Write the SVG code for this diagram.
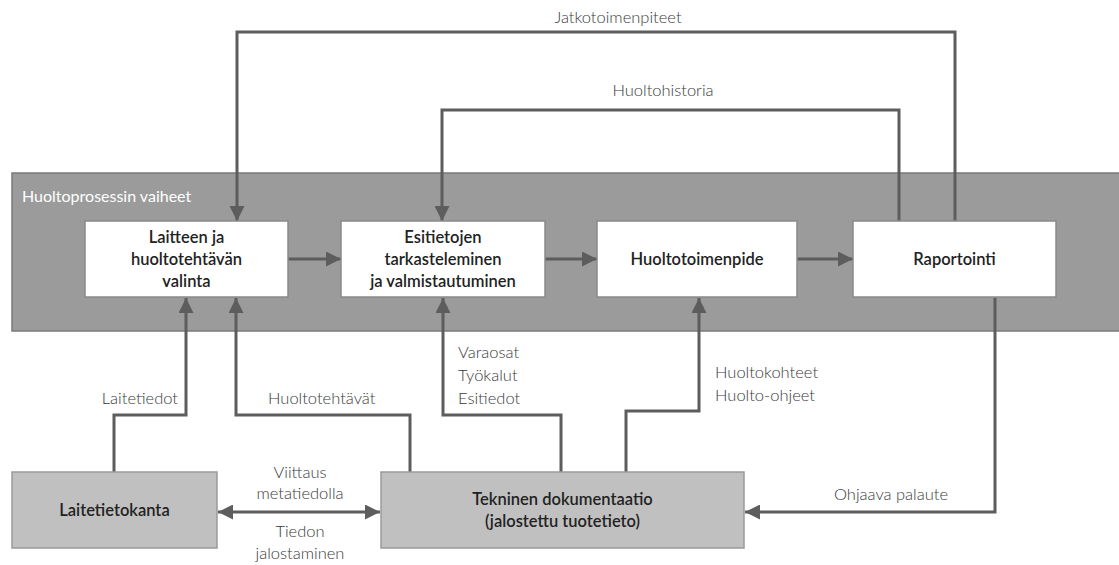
<svg xmlns="http://www.w3.org/2000/svg" width="1119" height="565" viewBox="0 0 1119 565">
<style>
.band{fill:#9b9b9b;stroke:#7a7a7a;stroke-width:1.5}
.step{fill:#fff;stroke:#8a8a8a;stroke-width:1.5}
.src{fill:#c0c0c0;stroke:#9a9a9a;stroke-width:1.5}
.nt{font-family:Lato,"Liberation Sans",sans-serif;font-size:16.5px;font-weight:600;fill:#222;text-anchor:middle}
.lbl{font-family:Lato,"Liberation Sans",sans-serif;font-size:16.5px;font-weight:300;fill:#3a3a3a}
.ttl{font-family:Lato,"Liberation Sans",sans-serif;font-size:16px;fill:#fff}
.c{fill:none;stroke:#5d5d5d;stroke-width:3}
</style>
<defs>
<marker id="ah" viewBox="0 0 10 10" refX="10" refY="5" markerWidth="5" markerHeight="5" orient="auto-start-reverse" markerUnits="strokeWidth">
<path d="M0,0 L10,5 L0,10 Z" fill="#5d5d5d"/>
</marker>
</defs>
<rect width="1119" height="565" fill="#fff"/>
<g id="band">
<rect class="band" x="12" y="173" width="1110" height="158"/>
<text class="ttl" x="22" y="202">Huoltoprosessin vaiheet</text>
</g>
<g id="connectors">
<path class="c" d="M288,259 H341" marker-end="url(#ah)"/>
<path class="c" d="M545,259 H597" marker-end="url(#ah)"/>
<path class="c" d="M797,259 H853" marker-end="url(#ah)"/>
<path class="c" d="M955,221 V32 H237 V221" marker-end="url(#ah)"/>
<path class="c" d="M899,221 V110 H442 V221" marker-end="url(#ah)"/>
<path class="c" d="M114,472 V415 H186 V298" marker-end="url(#ah)"/>
<path class="c" d="M410,472 V415 H236 V298" marker-end="url(#ah)"/>
<path class="c" d="M561,472 V415 H443 V298" marker-end="url(#ah)"/>
<path class="c" d="M626,472 V411 H699 V298" marker-end="url(#ah)"/>
<path class="c" d="M995,298 V512 H745" marker-end="url(#ah)"/>
<path class="c" d="M218,512 H380" marker-start="url(#ah)" marker-end="url(#ah)"/>
</g>
<g id="labels">
<text class="lbl" x="618" y="23" text-anchor="middle">Jatkotoimenpiteet</text>
<text class="lbl" x="663" y="96" text-anchor="middle">Huoltohistoria</text>
<text class="lbl" x="178" y="404" text-anchor="end">Laitetiedot</text>
<text class="lbl" x="268" y="404">Huoltotehtävät</text>
<text class="lbl" x="458" y="358">Varaosat</text>
<text class="lbl" x="458" y="381">Työkalut</text>
<text class="lbl" x="458" y="404">Esitiedot</text>
<text class="lbl" x="715" y="378">Huoltokohteet</text>
<text class="lbl" x="715" y="401">Huolto-ohjeet</text>
<text class="lbl" x="891" y="500" text-anchor="middle">Ohjaava palaute</text>
<text class="lbl" x="300" y="478" text-anchor="middle">Viittaus</text>
<text class="lbl" x="300" y="499" text-anchor="middle">metatiedolla</text>
<text class="lbl" x="300" y="537" text-anchor="middle">Tiedon</text>
<text class="lbl" x="300" y="559" text-anchor="middle">jalostaminen</text>
</g>
<g id="n-valinta">
<rect class="step" x="85" y="221" width="203" height="76"/>
<text class="nt" x="186.5" y="243">Laitteen ja</text>
<text class="nt" x="186.5" y="265">huoltotehtävän</text>
<text class="nt" x="186.5" y="287">valinta</text>
</g>
<g id="n-esitiedot">
<rect class="step" x="341" y="221" width="204" height="76"/>
<text class="nt" x="443" y="243">Esitietojen</text>
<text class="nt" x="443" y="265">tarkasteleminen</text>
<text class="nt" x="443" y="287">ja valmistautuminen</text>
</g>
<g id="n-huoltotoimenpide">
<rect class="step" x="597" y="221" width="200" height="76"/>
<text class="nt" x="697" y="265">Huoltotoimenpide</text>
</g>
<g id="n-raportointi">
<rect class="step" x="853" y="221" width="203" height="76"/>
<text class="nt" x="954.5" y="265">Raportointi</text>
</g>
<g id="n-laitetietokanta">
<rect class="src" x="12" y="472" width="205" height="76"/>
<text class="nt" x="114.5" y="516">Laitetietokanta</text>
</g>
<g id="n-tekninen">
<rect class="src" x="381" y="472" width="363" height="76"/>
<text class="nt" x="562.5" y="505">Tekninen dokumentaatio</text>
<text class="nt" x="562.5" y="527">(jalostettu tuotetieto)</text>
</g>
</svg>
